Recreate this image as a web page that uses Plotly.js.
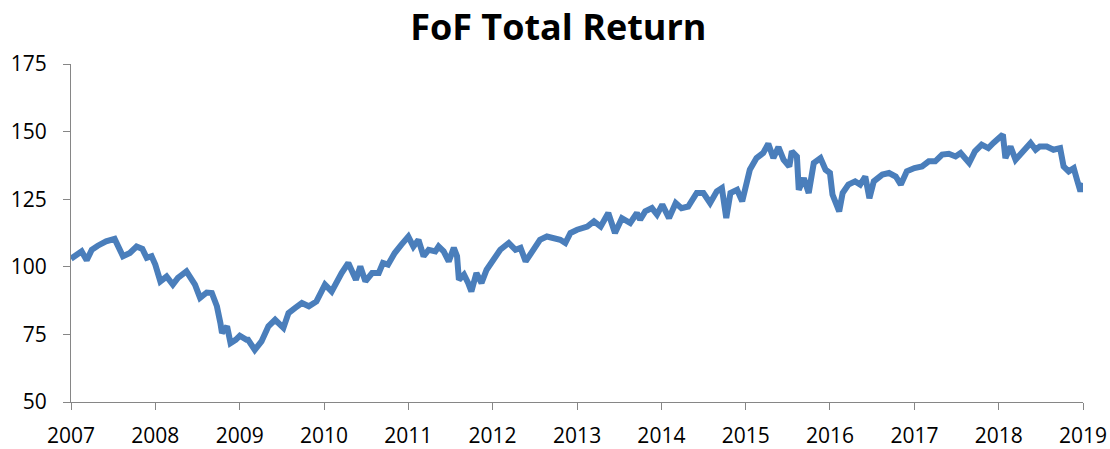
<!DOCTYPE html>
<html>
<head>
<meta charset="utf-8">
<script src="https://cdn.plot.ly/plotly-3.0.1.min.js"></script>
<style>
  html, body { margin: 0; padding: 0; background: #fff; }
  #chart { width: 1110px; height: 449px; }
</style>
</head>
<body>
<div id="chart"></div>
<script>
const dates = [
  '2007-01-01','2007-02-16','2007-03-10','2007-04-01','2007-04-27','2007-06-02','2007-07-09','2007-07-23',
  '2007-08-14','2007-09-13','2007-10-12','2007-11-06','2007-11-25','2007-12-16',
  '2008-01-01','2008-01-23','2008-02-19','2008-03-17','2008-04-08','2008-05-15','2008-06-21','2008-07-13',
  '2008-08-11','2008-09-02','2008-09-24','2008-10-09','2008-10-16','2008-11-07','2008-11-22','2008-12-14',
  '2009-01-01','2009-01-30','2009-02-06','2009-03-07','2009-04-05','2009-05-05','2009-06-03','2009-07-09',
  '2009-07-31','2009-08-29','2009-09-27','2009-10-27','2009-11-29',
  '2010-01-05','2010-02-03','2010-03-18','2010-04-16','2010-05-19','2010-06-07','2010-06-29','2010-07-28',
  '2010-08-26','2010-09-13','2010-10-05','2010-11-03','2010-12-02',
  '2011-01-01','2011-01-23','2011-02-14','2011-03-08','2011-03-30','2011-04-28','2011-05-12','2011-06-03',
  '2011-06-25','2011-07-17','2011-07-31','2011-08-08','2011-08-30','2011-09-17','2011-10-01','2011-10-23',
  '2011-11-14','2011-12-06',
  '2012-01-05','2012-02-03','2012-03-11','2012-04-09','2012-05-01','2012-05-23','2012-06-21','2012-07-24',
  '2012-08-23','2012-09-21','2012-10-20','2012-11-11','2012-12-03',
  '2013-01-01','2013-02-14','2013-03-15','2013-04-13','2013-05-16','2013-06-14','2013-07-14','2013-08-19',
  '2013-09-17','2013-10-01','2013-10-23','2013-11-21','2013-12-13',
  '2014-01-05','2014-02-03','2014-03-04','2014-03-29','2014-04-27','2014-06-03','2014-07-02','2014-07-31',
  '2014-08-29','2014-09-20','2014-10-09','2014-10-27','2014-11-25','2014-12-17',
  '2015-01-01','2015-01-19','2015-02-17','2015-03-18','2015-04-09','2015-05-01','2015-05-23','2015-06-14',
  '2015-07-09','2015-07-20','2015-08-11','2015-08-19','2015-09-10','2015-10-01','2015-10-23','2015-11-21',
  '2015-12-13',
  '2016-01-01','2016-01-12','2016-02-10','2016-02-25','2016-03-21','2016-04-19','2016-05-11','2016-06-02',
  '2016-06-20','2016-07-09','2016-08-15','2016-09-13','2016-10-12','2016-11-03','2016-11-29',
  '2017-01-01','2017-02-03','2017-03-04','2017-04-01','2017-05-01','2017-05-30','2017-06-28','2017-07-20',
  '2017-08-26','2017-09-20','2017-10-19','2017-11-17','2017-12-09',
  '2018-01-01','2018-01-19','2018-01-30','2018-02-21','2018-03-15','2018-04-13','2018-05-19','2018-06-10',
  '2018-06-28','2018-07-28','2018-08-26','2018-09-24','2018-10-09','2018-10-31','2018-11-22','2018-12-06',
  '2018-12-21','2019-01-01'
];
const totalReturn = [
  103.0,105.7,102.4,106.3,107.8,109.4,110.3,108.2,
  103.9,105.1,107.5,106.6,103.3,103.9,
  100.8,94.6,96.4,93.4,95.9,98.3,93.4,88.5,
  90.5,90.3,85.4,79.2,75.5,78.0,71.8,73.0,
  74.5,73.0,73.0,69.3,72.4,78.0,80.4,77.4,
  82.9,84.8,86.6,85.4,87.2,
  93.4,90.9,97.7,101.4,95.2,100.1,94.6,97.7,
  97.7,101.4,100.8,105.1,108.2,
  111.2,107.5,110.0,103.9,106.3,105.7,107.5,105.7,
  102.0,107.0,103.9,95.2,97.1,94.0,90.9,97.7,
  94.0,98.9,
  102.6,106.3,108.8,106.3,107.0,102.0,105.7,110.0,
  111.2,110.6,110.0,108.8,112.5,
  113.7,114.9,116.8,114.9,119.9,112.5,118.0,116.2,
  119.9,117.4,120.5,121.7,119.3,
  123.0,118.0,123.6,121.7,122.3,127.3,127.3,123.6,
  127.9,129.1,118.0,127.3,128.5,124.2,
  129.8,135.9,140.2,142.1,145.5,140.2,144.3,139.6,
  137.1,142.7,140.8,128.5,132.8,127.3,138.4,140.2,
  135.9,
  134.7,126.7,120.5,127.3,130.4,131.6,130.4,133.4,
  125.4,131.6,134.1,134.7,133.4,130.4,135.3,
  136.5,137.1,139.0,139.0,141.5,141.8,140.8,142.1,
  138.4,142.7,145.2,143.9,145.8,
  147.6,148.9,140.2,144.5,139.6,142.7,145.8,143.3,
  144.5,144.5,143.3,143.9,137.1,135.3,136.5,132.2,
  127.9,131.0
];
const yTicks = [50, 75, 100, 125, 150, 175];
const titleText = 'FoF Total Return';

const trace = {
  type: 'scatter',
  mode: 'lines',
  x: dates,
  y: totalReturn,
  line: { color: '#4a7ebb', width: 6 },
  hoverinfo: 'x+y'
};

const layout = {
  width: 1110,
  height: 449,
  margin: { l: 71, r: 27, t: 64, b: 47 },
  paper_bgcolor: '#ffffff',
  plot_bgcolor: '#ffffff',
  showlegend: false,
  font: { family: '"Open Sans", sans-serif', color: '#000000', size: 21 },
  title: {
    text: '<b>' + titleText + '</b>',
    font: { family: '"Open Sans", sans-serif', size: 36, color: '#000000' },
    x: 0.503, xanchor: 'center',
    y: 0.94, yanchor: 'middle'
  },
  xaxis: {
    type: 'date',
    range: ['2007-01-01', '2019-01-01'],
    tick0: '2007-01-01',
    dtick: 'M12',
    tickformat: '%Y',
    ticks: 'outside',
    ticklen: 7,
    tickwidth: 1,
    tickcolor: '#868686',
    showline: true,
    linecolor: '#868686',
    linewidth: 1,
    showgrid: false,
    zeroline: false,
    ticklabelstandoff: 8,
    tickfont: { size: 21, color: '#000000' }
  },
  yaxis: {
    range: [50, 175],
    tickvals: yTicks,
    ticktext: yTicks.map(String),
    ticks: 'outside',
    ticklen: 7,
    tickwidth: 1,
    tickcolor: '#868686',
    showline: true,
    linecolor: '#868686',
    linewidth: 1,
    showgrid: false,
    zeroline: false,
    ticklabelstandoff: 12,
    tickfont: { size: 21, color: '#000000' }
  }
};

Plotly.newPlot('chart', [trace], layout, { staticPlot: true, displayModeBar: false });
</script>
</body>
</html>
